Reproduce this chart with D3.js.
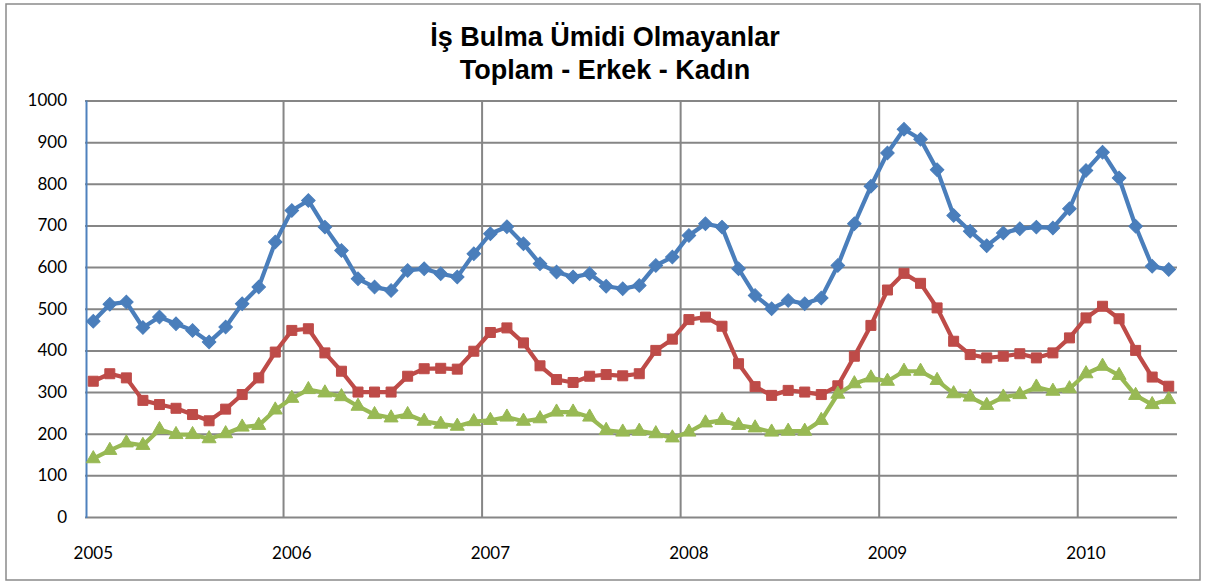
<!DOCTYPE html>
<html>
<head>
<meta charset="utf-8">
<script src="https://cdn.jsdelivr.net/npm/d3@7"></script>
<style>
  html, body { margin: 0; padding: 0; background: #fff; }
  svg { display: block; }
</style>
</head>
<body>
<svg id="chart" width="1206" height="583"></svg>
<script>
// Yıllar ve aylık kategoriler (Ocak 2005 – Haziran 2010)
const years = ["2005", "2006", "2007", "2008", "2009", "2010"];
const categories = years.flatMap(y => d3.range(1, 13).map(m => `${y}-${String(m).padStart(2, "0")}`)).slice(0, 66);

const yTicks = [0, 100, 200, 300, 400, 500, 600, 700, 800, 900, 1000];

// Toplam (bin kişi)
const toplam = [470, 511, 516, 455, 480, 464, 448, 420, 456, 512, 552, 660,
                736, 760, 696, 640, 572, 552, 544, 592, 596, 584, 576, 632,
                680, 697, 656, 608, 588, 576, 584, 554, 548, 556, 604, 624,
                676, 704, 696, 596, 532, 500, 520, 512, 526, 604, 704, 794,
                874, 931, 907, 834, 724, 686, 651, 682, 692, 696, 694, 740,
                832, 876, 814, 698, 602, 594];
// Erkek
const erkek = [326, 344, 334, 280, 270, 261, 246, 231, 259, 294, 334, 396,
               448, 452, 394, 350, 300, 300, 300, 338, 356, 357, 355, 398,
               443, 454, 418, 363, 330, 323, 338, 342, 339, 344, 400, 427,
               474, 480, 458, 368, 313, 292, 304, 300, 294, 315, 386, 460,
               545, 585, 561, 502, 422, 390, 382, 386, 392, 382, 394, 430,
               478, 506, 476, 400, 336, 314];
// Kadın
const kadin = [140, 160, 178, 172, 210, 198, 198, 188, 200, 216, 220, 257,
               285, 306, 298, 289, 266, 246, 238, 246, 230, 223, 218, 229,
               232, 240, 230, 236, 252, 252, 240, 208, 204, 206, 200, 190,
               204, 226, 232, 220, 214, 204, 206, 206, 232, 295, 320, 334,
               326, 350, 350, 328, 296, 288, 268, 288, 294, 312, 302, 308,
               344, 362, 340, 292, 270, 282];

const titleLines = ["İş Bulma Ümidi Olmayanlar", "Toplam - Erkek - Kadın"];

const series = [
  { name: "Toplam", values: toplam, color: "#4A7EBB", symbol: d3.symbolSquare,   size: 92, rotate: 45 },
  { name: "Erkek",  values: erkek,  color: "#BE4B48", symbol: d3.symbolSquare,   size: 100, rotate: 0 },
  { name: "Kadın",  values: kadin,  color: "#98B954", symbol: d3.symbolTriangle, size: 85, rotate: 0 }
];

const svg = d3.select("#chart");
const plot = { left: 85, right: 1177, top: 100.5, bottom: 517 };
const gridColor = "#868686";

// Dış çerçeve
svg.append("rect")
  .attr("x", 6).attr("y", 4).attr("width", 1194).attr("height", 576)
  .attr("fill", "#fff").attr("stroke", "#8a8a8a").attr("stroke-width", 1.5);

const x = d3.scaleBand().domain(categories).range([plot.left, plot.right]).padding(0);
const y = d3.scaleLinear().domain([0, 1000]).range([plot.bottom, plot.top]);
const cx = d => x(d) + x.bandwidth() / 2;

// Yatay ızgara çizgileri ve y ekseni etiketleri
const yAxis = d3.axisLeft(y).tickValues(yTicks).tickSize(-(plot.right - plot.left)).tickPadding(18).tickFormat(d3.format("d"));
const gy = svg.append("g").attr("transform", `translate(${plot.left},0)`).call(yAxis);
gy.select(".domain").remove();
gy.selectAll(".tick line").attr("stroke", gridColor).attr("stroke-width", 2);
gy.selectAll(".tick text")
  .attr("fill", "#000")
  .style("font-family", "Lato, 'Open Sans', sans-serif")
  .style("font-size", "17px");

// Dikey ızgara çizgileri (yıl sınırları)
const yearStarts = categories.filter(c => c.endsWith("-01"));
svg.append("g").selectAll("line")
  .data(yearStarts.filter((c, i) => i > 0))
  .join("line")
  .attr("x1", d => x(d)).attr("x2", d => x(d))
  .attr("y1", plot.top).attr("y2", plot.bottom)
  .attr("stroke", gridColor).attr("stroke-width", 2);

// Sol eksen çizgisi
svg.append("line")
  .attr("x1", plot.left + 1.5).attr("x2", plot.left + 1.5)
  .attr("y1", plot.top).attr("y2", plot.bottom + 1)
  .attr("stroke", "#4F81BD").attr("stroke-width", 2);

// X ekseni yıl etiketleri
const xAxis = d3.axisBottom(x).tickValues(yearStarts).tickSize(0).tickPadding(30)
  .tickFormat(d => d.slice(0, 4));
const gx = svg.append("g").attr("transform", `translate(0,${plot.bottom})`).call(xAxis);
gx.select(".domain").remove();
gx.selectAll(".tick text")
  .attr("fill", "#000")
  .style("font-family", "Lato, 'Open Sans', sans-serif")
  .style("font-size", "17px");

// Seriler: çizgi + işaretçiler
const line = d3.line().x((v, i) => cx(categories[i])).y(v => y(v));
series.forEach(s => {
  svg.append("path")
    .datum(s.values)
    .attr("d", line)
    .attr("fill", "none")
    .attr("stroke", s.color)
    .attr("stroke-width", 4.2)
    .attr("stroke-linejoin", "round");
  const sym = d3.symbol().type(s.symbol).size(s.size);
  svg.append("g").selectAll("path")
    .data(s.values)
    .join("path")
    .attr("d", sym)
    .attr("transform", (v, i) => `translate(${cx(categories[i])},${y(v)}) rotate(${s.rotate})`)
    .attr("fill", s.color)
    .attr("stroke", s.color)
    .attr("stroke-width", 1);
});

// Başlık
const title = svg.append("text")
  .attr("x", 605).attr("text-anchor", "middle")
  .style("font-family", "'Liberation Sans', Arial, sans-serif")
  .style("font-weight", "bold")
  .style("font-size", "27px")
  .attr("fill", "#000");
titleLines.forEach((t, i) => {
  title.append("tspan").attr("x", 605).attr("y", 46 + i * 33).text(t);
});
</script>
</body>
</html>
